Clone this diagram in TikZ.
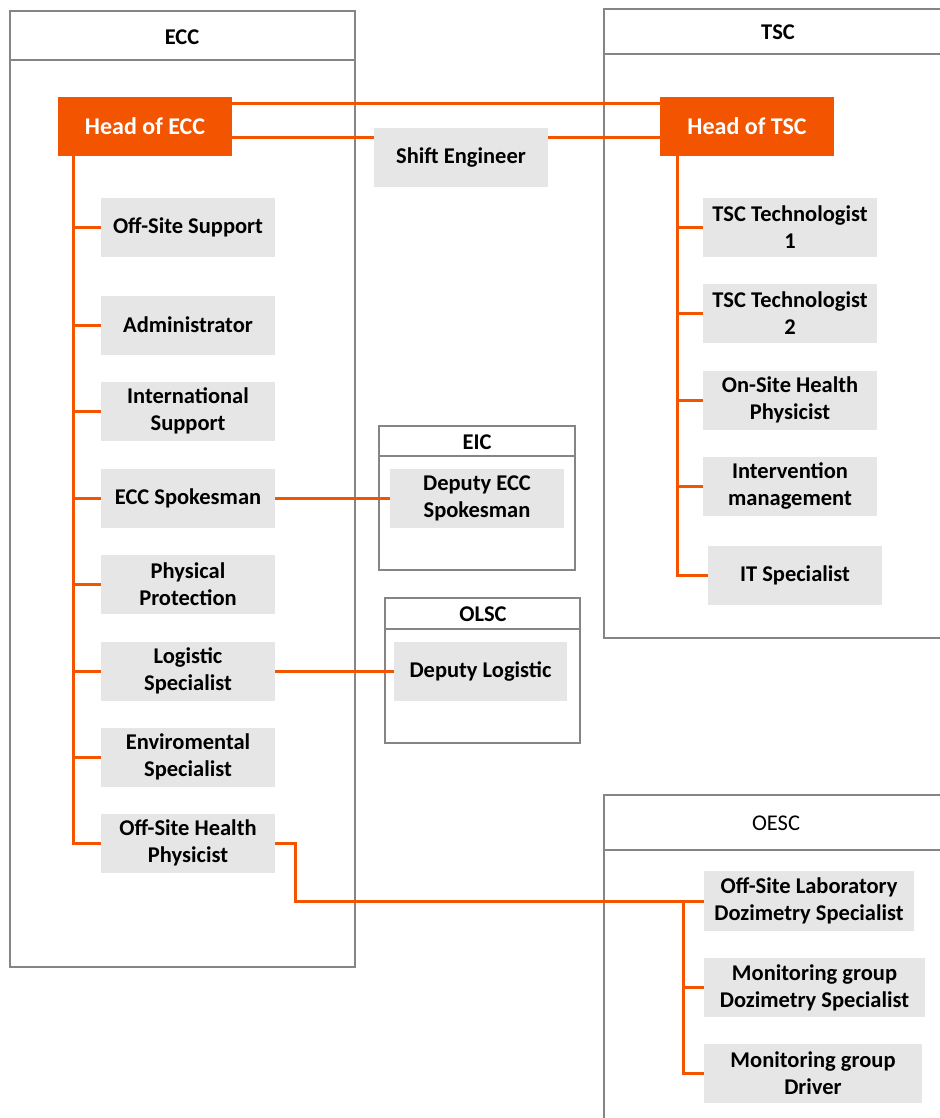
\documentclass[tikz,border=0pt]{standalone}
\usepackage{fontspec}
\setmainfont{Carlito}
\definecolor{org}{HTML}{F25400}
\definecolor{boxgray}{HTML}{E6E6E6}
\definecolor{framegray}{HTML}{858585}
\begin{document}
\begin{tikzpicture}[x=1pt,y=-1pt,
  role/.style={fill=boxgray, minimum width=174pt, minimum height=59pt, inner sep=0pt, align=center, font=\bfseries\fontsize{22.5}{27}\selectfont},
  head/.style={fill=org, text=white, minimum width=174pt, minimum height=59pt, inner sep=0pt, font=\bfseries\fontsize{24}{27}\selectfont},
  frame/.style={draw=framegray, line width=2.8pt},
  htitle/.style={font=\bfseries\fontsize{22.5}{25}\selectfont, inner sep=0pt},
  link/.style={draw=org, line width=3pt}]
\useasboundingbox (0,0) rectangle (939,1118);
\fill[white] (0,0) rectangle (939,1118);

% containers
\draw[frame] (10,11) rectangle (355,967);
\draw[frame] (10,60) -- (355,60);
\node[htitle] (tecc) at (182,37) {ECC};

\draw[frame] (604,9) rectangle (948,638);
\draw[frame] (604,54) -- (948,54);
\node[htitle] (ttsc) at (778,32) {TSC};

\draw[frame] (604,795) rectangle (948,1130);
\draw[frame] (604,850) -- (948,850);
\node[htitle, font=\fontsize{22.5}{25}\selectfont] (toesc) at (776,823) {OESC};

\draw[frame] (379,426) rectangle (575,570);
\draw[frame] (379,456) -- (575,456);
\node[htitle] (teic) at (477,442) {EIC};

\draw[frame] (385,598) rectangle (580,743);
\draw[frame] (385,629) -- (580,629);
\node[htitle] (tolsc) at (483,614) {OLSC};

% heads
\node[head] (hecc) at (145,126.5) {Head of ECC};
\node[head] (htsc) at (747,126.5) {Head of TSC};
\node[role] (shift) at (461,158) {Shift Engineer};

% ECC roles
\node[role] (offsup) at (188,227) {Off-Site Support};
\node[role] (admin) at (188,325) {Administrator};
\node[role] (intl) at (188,411) {International\\Support};
\node[role] (spk) at (188,498) {ECC Spokesman};
\node[role] (phys) at (188,584) {Physical\\Protection};
\node[role] (logi) at (188,671) {Logistic\\Specialist};
\node[role] (env) at (188,757) {Enviromental\\Specialist};
\node[role] (ohp) at (188,843) {Off-Site Health\\Physicist};

% TSC roles
\node[role] (tt1) at (790,227) {TSC Technologist\\1};
\node[role] (tt2) at (790,313) {TSC Technologist\\2};
\node[role] (oshp) at (790,400) {On-Site Health\\Physicist};
\node[role] (interv) at (790,486) {Intervention\\management};
\node[role] (itspec) at (795,575) {IT Specialist};

% EIC / OLSC
\node[role] (dspk) at (477,498) {Deputy ECC\\Spokesman};
\node[role, minimum width=173pt] (dlog) at (480.5,671) {Deputy Logistic};

% OESC roles
\node[role, minimum width=210pt, minimum height=60pt] (labdoz) at (809,901) {Off-Site Laboratory\\Dozimetry Specialist};
\node[role, minimum width=221pt] (mondoz) at (814.5,987.5) {Monitoring group\\Dozimetry Specialist};
\node[role, minimum width=218pt] (mondrv) at (813,1073.5) {Monitoring group\\Driver};

% links between heads
\draw[link] ([yshift=22.5pt]hecc.east) -- ([yshift=22.5pt]htsc.west);
\draw[link] ([yshift=-11.5pt]hecc.east) -- ([yshift=20pt]shift.west);
\draw[link] ([yshift=20pt]shift.east) -- ([yshift=-11.5pt]htsc.west);

% ECC tree
\coordinate (ecctop) at (73,156);
\draw[link] (ecctop) |- (ohp.west);
\foreach \c in {offsup,admin,intl,spk,phys,logi,env}
  \draw[link] (ecctop |- \c.west) -- (\c.west);

% TSC tree
\coordinate (tsctop) at (677,156);
\draw[link] (tsctop) |- (itspec.west);
\foreach \c in {tt1,tt2,oshp,interv}
  \draw[link] (tsctop |- \c.west) -- (\c.west);

% deputies
\draw[link] (spk.east) -- (dspk.west);
\draw[link] (logi.east) -- (dlog.west);

% OESC
\coordinate (bend) at (295,901);
\draw[link] (ohp.east) -| (bend) -- (labdoz.west);
\coordinate (oesctop) at (683,901);
\draw[link] (oesctop) |- (mondrv.west);
\draw[link] (oesctop |- mondoz.west) -- (mondoz.west);
\end{tikzpicture}
\end{document}
